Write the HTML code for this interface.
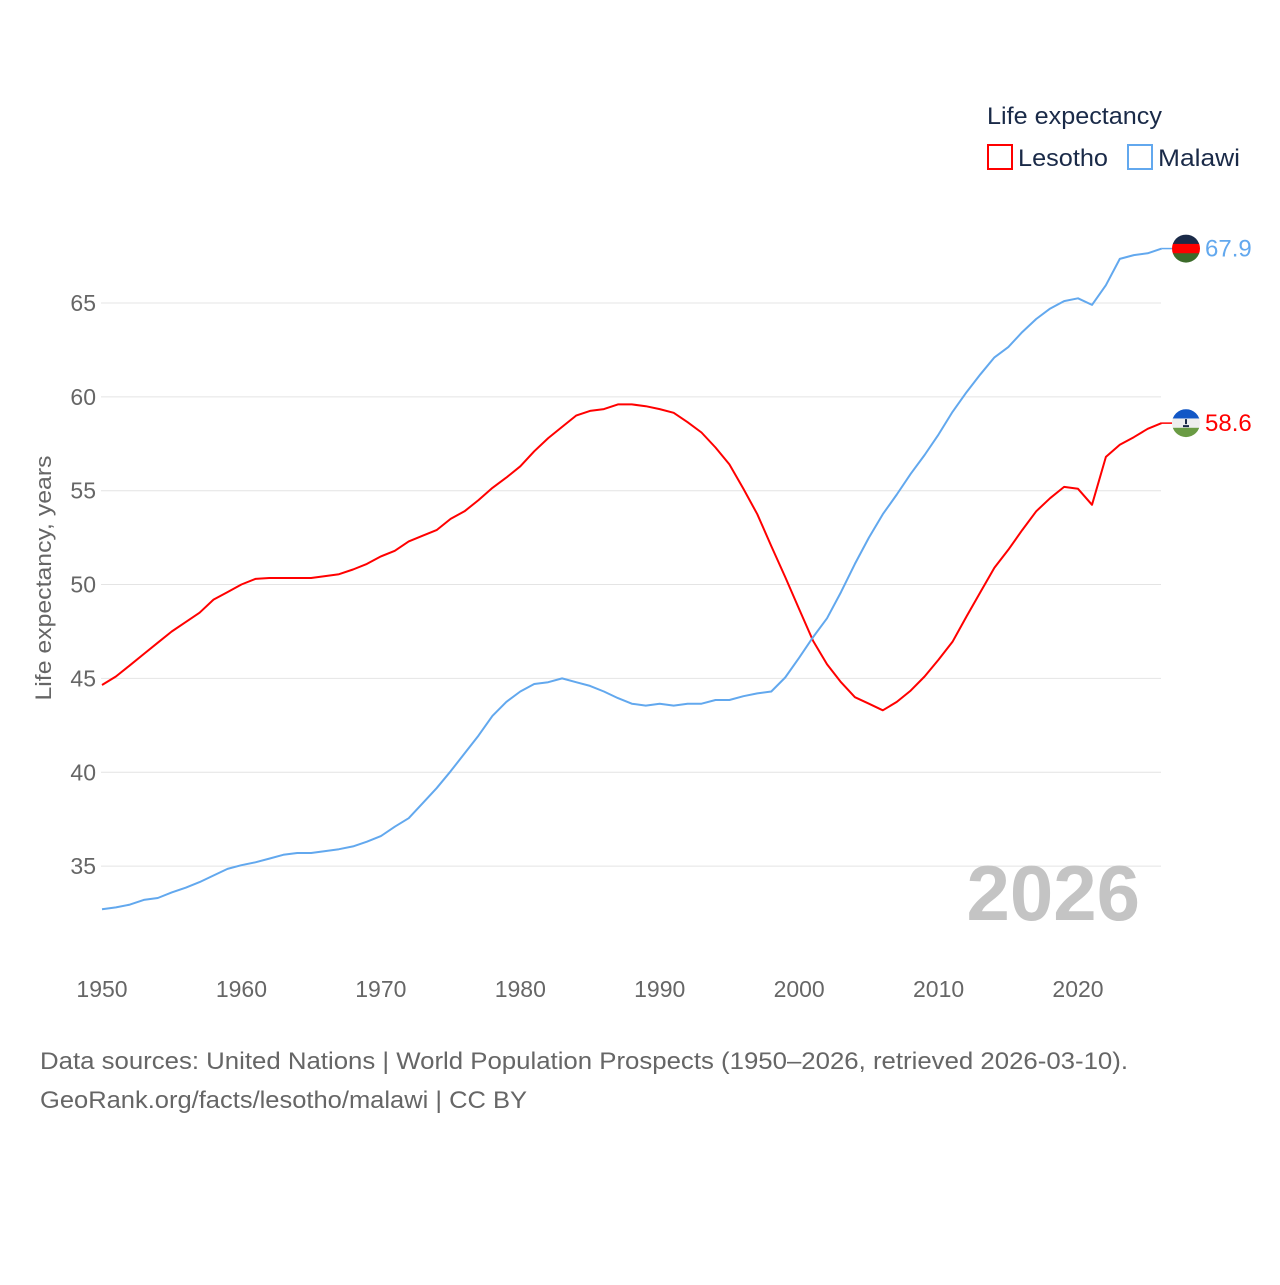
<!DOCTYPE html>
<html><head><meta charset="utf-8"><style>
body{margin:0;background:#fff;width:1280px;height:1280px;overflow:hidden;font-family:"Liberation Sans",sans-serif}
</style></head><body>
<svg id="chart" width="1280" height="1280" xmlns="http://www.w3.org/2000/svg" font-family="Liberation Sans, sans-serif">
<g id="grid"></g>
<g id="yticks"></g>
<g id="xticks"></g>
<text transform="translate(51,578) rotate(-90)" text-anchor="middle" font-size="22" fill="#666" textLength="245" lengthAdjust="spacingAndGlyphs">Life expectancy, years</text>
<text x="1140" y="920" text-anchor="end" font-size="78" font-weight="bold" fill="#c4c4c4">2026</text>
<g>
<text x="987" y="124" font-size="24" fill="#1a2a48" textLength="175" lengthAdjust="spacingAndGlyphs">Life expectancy</text>
<rect x="988" y="145" width="24" height="24" fill="none" stroke="#f00" stroke-width="2"/>
<text x="1018" y="166" font-size="24" fill="#1a2a48" textLength="90" lengthAdjust="spacingAndGlyphs">Lesotho</text>
<rect x="1128" y="145" width="24" height="24" fill="none" stroke="#62a8ee" stroke-width="2"/>
<text x="1158" y="166" font-size="24" fill="#1a2a48" textLength="82" lengthAdjust="spacingAndGlyphs">Malawi</text>
</g>
<g id="series"></g>
<g id="ends"></g>
<text x="40" y="1069" font-size="24" fill="#666" textLength="1088" lengthAdjust="spacingAndGlyphs">Data sources: United Nations | World Population Prospects (1950–2026, retrieved 2026-03-10).</text>
<text x="40" y="1108" font-size="24" fill="#666" textLength="487" lengthAdjust="spacingAndGlyphs">GeoRank.org/facts/lesotho/malawi | CC BY</text>
</svg>
<script>
const years=[];for(let y=1950;y<=2026;y++)years.push(y);
const lesotho=[44.65,45.1,45.7,46.3,46.9,47.5,48.0,48.5,49.2,49.6,50.0,50.3,50.35,50.35,50.35,50.35,50.45,50.55,50.8,51.1,51.5,51.8,52.3,52.6,52.9,53.5,53.9,54.5,55.15,55.7,56.3,57.1,57.8,58.4,59.0,59.25,59.35,59.6,59.6,59.5,59.35,59.15,58.65,58.1,57.3,56.4,55.1,53.75,52.05,50.4,48.7,47.0,45.75,44.8,44.0,43.65,43.3,43.75,44.35,45.1,46.0,46.95,48.3,49.6,50.9,51.85,52.9,53.9,54.6,55.2,55.1,54.25,56.8,57.45,57.85,58.3,58.6];
const malawi=[32.7,32.8,32.95,33.2,33.3,33.6,33.85,34.15,34.5,34.85,35.05,35.2,35.4,35.6,35.7,35.7,35.8,35.9,36.05,36.3,36.6,37.1,37.55,38.35,39.15,40.05,41.0,41.95,43.0,43.75,44.3,44.7,44.8,45.0,44.8,44.6,44.3,43.95,43.65,43.55,43.65,43.55,43.65,43.65,43.85,43.85,44.05,44.2,44.3,45.05,46.1,47.2,48.2,49.6,51.1,52.5,53.75,54.8,55.9,56.9,58.0,59.2,60.25,61.2,62.1,62.65,63.45,64.15,64.7,65.1,65.25,64.9,65.95,67.35,67.55,67.65,67.9];
const yTicks=[35,40,45,50,55,60,65];
const xTicks=[1950,1960,1970,1980,1990,2000,2010,2020];
const NS="http://www.w3.org/2000/svg";
const X=v=>102+(v-1950)*13.943;
const Y=v=>303+(65-v)*18.77;
function mk(tag,attrs,parent){const e=document.createElementNS(NS,tag);for(const k in attrs)e.setAttribute(k,attrs[k]);parent.appendChild(e);return e;}
const grid=document.getElementById('grid'),yt=document.getElementById('yticks'),xt=document.getElementById('xticks');
yTicks.forEach(t=>{
 const l=mk('line',{x1:101,x2:1161,y1:Y(t),y2:Y(t),stroke:'#e4e4e4','stroke-width':1},grid);
 
 
 const tx=mk('text',{x:96,y:Y(t)+8,'text-anchor':'end','font-size':23,fill:'#666'},yt);tx.textContent=t;
 
 
});
xTicks.forEach(t=>{
 const tx=mk('text',{x:X(t),y:997,'text-anchor':'middle','font-size':23,fill:'#666'},xt);tx.textContent=t;
 
 
});
const ser=document.getElementById('series');
function line(vals,color,name){
 const d=vals.map((v,i)=>(i?'L':'M')+X(years[i]).toFixed(1)+','+Y(v).toFixed(1)).join('');
 const p=mk('path',{d:d,fill:'none',stroke:color,'stroke-width':2,'stroke-linejoin':'round'},ser);
 
 
}
line(lesotho,'#f00','line-lesotho');
line(malawi,'#62a8ee','line-malawi');
const ends=document.getElementById('ends');
function endLabel(vals,color,name,flag){
 const v=vals[vals.length-1],y=Y(v),cx=1186;
 const g=mk('g',{},ends);
 
 
 mk('line',{x1:X(2026),x2:cx-14,y1:y,y2:y,stroke:color,'stroke-width':1.5},g);
 const cid='clip-'+name;
 const cp=mk('clipPath',{id:cid},g);mk('circle',{cx:cx,cy:y,r:14},cp);
 const fg=mk('g',{'clip-path':'url(#'+cid+')'},g);
 
 
 flag.forEach((c,i)=>mk('rect',{x:cx-14,y:y-14+i*28/3,width:28,height:28/3+0.5,fill:c},fg));
 if(name==='lesotho')mk('path',{d:`M${cx},${y-4}L${cx},${y+1}M${cx-3},${y+3}h6`,stroke:'#1a2a48','stroke-width':2},fg);
 const t=mk('text',{x:1205,y:y+8,'font-size':24,fill:color},g);t.textContent=v.toFixed(1);
}
endLabel(malawi,'#62a8ee','malawi',['#1a2a48','#f00','#3c6b2a']);
endLabel(lesotho,'#f00','lesotho',['#1257c6','#eeeeee','#6a9b44']);
</script>
</body></html>
